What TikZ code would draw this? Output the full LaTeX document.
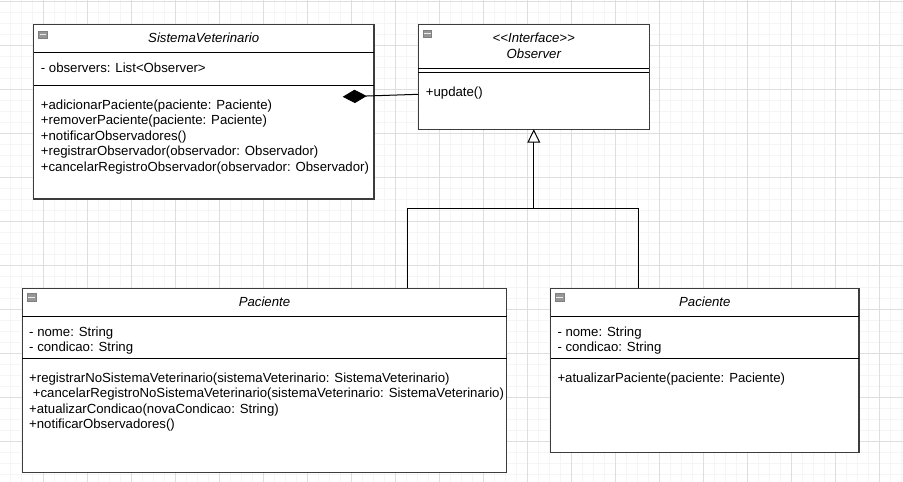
\documentclass[tikz,border=0pt]{standalone}
\usepackage{fontspec}
\setmainfont{Liberation Sans}
\usetikzlibrary{arrows.meta}
\definecolor{gridminor}{RGB}{245,245,245}
\definecolor{gridmajor}{RGB}{222,222,222}
\definecolor{boxline}{RGB}{60,60,60}
\definecolor{icongray}{RGB}{150,150,150}
\tikzset{
  umlbox/.style={draw=boxline, line width=1.3pt, fill=white, inner sep=0pt, outer sep=0pt, anchor=north west},
  sepline/.style={draw=black, line width=0.9pt},
  txt/.style={anchor=base west, inner sep=0pt, font=\fontsize{13.2}{15.5}\selectfont},
  ttl/.style={anchor=base, inner sep=0pt, font=\fontsize{13.2}{15.5}\selectfont\itshape},
  conn/.style={draw=black, line width=1pt},
  iconbox/.style={fill=icongray, draw=gray, line width=0.4pt},
  iconbar/.style={draw=white!85!gray, line width=1.2pt}
}
\begin{document}
\begin{tikzpicture}[x=1pt,y=-1pt]
\useasboundingbox (0,0) rectangle (903,482);
\fill[white] (0,0) rectangle (903,482);
% grid
\foreach \i in {0,...,83} {\draw[gridminor, line width=1pt] (-0.5+11*\i,0) -- (-0.5+11*\i,482);}
\foreach \i in {0,...,44} {\draw[gridminor, line width=1pt] (0,1.5+11*\i) -- (903,1.5+11*\i);}
\foreach \i in {0,...,21} {\draw[gridmajor, line width=1pt] (-0.5+44*\i,0) -- (-0.5+44*\i,482);}
\foreach \i in {0,...,11} {\draw[gridmajor, line width=1pt] (0,1.5+44*\i) -- (903,1.5+44*\i);}

% SistemaVeterinario
\node[umlbox, minimum width=340.5pt, minimum height=174.5pt] (sv) at (33.5,24.5) {};
\draw[sepline] (33.5,52.7) -- (374,52.7);
\draw[sepline] (33.5,85.7) -- (374,85.7);
\filldraw[iconbox] (38.5,31) rectangle (47,38.5);
\draw[iconbar] (39.5,34.75) -- (46,34.75);
\node[ttl] (svt) at (203.75,42.8) {SistemaVeterinario};
\node[txt] (sva) at (40.7,72.2) {- observers: List<Observer>};
\node[txt] (svm1) at (40.7,109.4) {+adicionarPaciente(paciente: Paciente)};
\node[txt] (svm2) at (40.7,124.9) {+removerPaciente(paciente: Paciente)};
\node[txt] (svm3) at (40.7,140.4) {+notificarObservadores()};
\node[txt] (svm4) at (40.7,155.9) {+registrarObservador(observador: Observador)};
\node[txt] (svm5) at (40.7,171.4) {+cancelarRegistroObservador(observador: Observador)};

% Observer
\node[umlbox, minimum width=231pt, minimum height=104.8pt] (obs) at (418.3,24.5) {};
\draw[sepline] (418.3,68) -- (649.3,68);
\draw[sepline] (418.3,72) -- (649.3,72);
\filldraw[iconbox] (423,30) rectangle (431.5,37.5);
\draw[iconbar] (424,33.75) -- (430.5,33.75);
\node[ttl] (obst1) at (533.8,42.6) {<{}<Interface>{}>};
\node[ttl] (obst2) at (533.8,58.6) {Observer};
\node[txt] (obsm) at (425.7,96.6) {+update()};

% Paciente (left)
\node[umlbox, minimum width=484.4pt, minimum height=184.4pt] (pl) at (22.3,288.3) {};
\draw[sepline] (22.3,316.3) -- (506.7,316.3);
\draw[sepline] (22.3,358.3) -- (506.7,358.3);
\filldraw[iconbox] (27.3,293.5) rectangle (35.8,301);
\draw[iconbar] (28.3,297.25) -- (34.8,297.25);
\node[ttl] (plt) at (264.5,306.6) {Paciente};
\node[txt] (pla1) at (29,336) {- nome: String};
\node[txt] (pla2) at (29,351) {- condicao: String};
\node[txt] (plm1) at (29,382.6) {+registrarNoSistemaVeterinario(sistemaVeterinario: SistemaVeterinario)};
\node[txt] (plm2) at (29,397.9) {\ +cancelarRegistroNoSistemaVeterinario(sistemaVeterinario: SistemaVeterinario)};
\node[txt] (plm3) at (29,413.1) {+atualizarCondicao(novaCondicao: String)};
\node[txt] (plm4) at (29,428.3) {+notificarObservadores()};

% Paciente (right)
\node[umlbox, minimum width=308.3pt, minimum height=164.4pt] (pr) at (550.7,288.3) {};
\draw[sepline] (550.7,316) -- (859,316);
\draw[sepline] (550.7,358.3) -- (859,358.3);
\filldraw[iconbox] (555.3,293.5) rectangle (563.8,301);
\draw[iconbar] (556.3,297.25) -- (562.8,297.25);
\node[ttl] (prt) at (704.8,306.6) {Paciente};
\node[txt] (pra1) at (557.3,336) {- nome: String};
\node[txt] (pra2) at (557.3,351) {- condicao: String};
\node[txt] (prm1) at (557.3,382.6) {+atualizarPaciente(paciente: Paciente)};

% composition
\coordinate (compA) at (418.3,94.3);
\coordinate (compB) at (342.7,96.8);
\draw[conn, -{Diamond[length=24pt,width=13.3pt]}] (compA) -- (compB);

% inheritance
\coordinate (junc) at (533.8,208);
\coordinate (plTop) at (407.7,288.3);
\coordinate (prTop) at (638.7,288.3);
\draw[conn] (plTop) |- (junc);
\draw[conn] (prTop) |- (junc);
\draw[conn, -{Triangle[open, length=13.4pt, width=13pt]}] (junc) -- (obs.south);
\end{tikzpicture}
\end{document}
